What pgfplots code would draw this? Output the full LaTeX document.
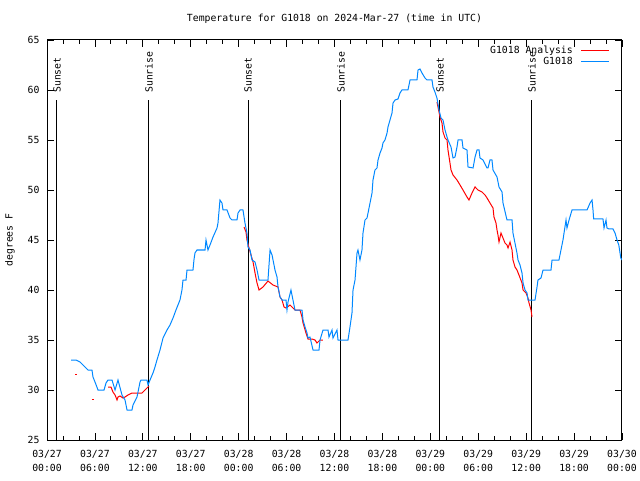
\documentclass[border=0pt]{standalone}
\usepackage{pgfplots}
\pgfplotsset{compat=1.18}
\usepackage{fontspec}
\setmainfont{DejaVu Sans Mono}
\definecolor{gred}{RGB}{255,0,0}
\definecolor{gblue}{RGB}{0,136,255}
\begin{document}
\fontsize{9.8}{15}\selectfont
\begin{tikzpicture}[x=1pt,y=1pt]
\useasboundingbox (0,0) rectangle (640,480);
\fill[white] (0,0) rectangle (640,480);
\node at (334.5,461) {Temperature for G1018 on 2024-Mar-27 (time in UTC)};
\node[rotate=90] at (10,240) {degrees F};
\begin{axis}[
  at={(47pt,40pt)}, anchor=south west,
  scale only axis, width=575pt, height=400pt,
  xmin=0, xmax=72, ymin=25, ymax=65,
  xtick={0,6,...,72},
  xticklabels={{03/27\\00:00},{03/27\\06:00},{03/27\\12:00},{03/27\\18:00},{03/28\\00:00},{03/28\\06:00},{03/28\\12:00},{03/28\\18:00},{03/29\\00:00},{03/29\\06:00},{03/29\\12:00},{03/29\\18:00},{03/30\\00:00}},
  xticklabel style={align=center, font=\fontsize{9.8}{14}\selectfont, yshift=-7pt},
  minor x tick num=2,
  ytick={25,30,...,65},
  yticklabel style={font=\fontsize{9.8}{12}\selectfont, xshift=-4pt},
  /pgf/number format/assume math mode=true,
  major tick length=7pt, minor tick length=4pt,
  tick style={black, line width=0.8pt},
  axis line style={line width=1pt},
  legend style={draw=none, fill=none, at={(1,1)}, anchor=north east, xshift=-9pt, yshift=-3pt,
    font=\fontsize{9.8}{11}\selectfont, legend cell align=right, row sep=0pt,
    nodes={inner sep=1pt}},
  legend plot pos=right,
  legend image code/.code={\path (0pt,0pt); \draw[#1] (7pt,0pt) -- (35pt,0pt);},
  clip=true,
]
% event lines
\addplot[black, line width=1pt, forget plot] coordinates {(1.25,25) (1.25,59)};
\addplot[black, line width=1pt, forget plot] coordinates {(12.77,25) (12.77,59)};
\addplot[black, line width=1pt, forget plot] coordinates {(25.17,25) (25.17,59)};
\addplot[black, line width=1pt, forget plot] coordinates {(36.80,25) (36.80,59)};
\addplot[black, line width=1pt, forget plot] coordinates {(49.21,25) (49.21,59)};
\addplot[black, line width=1pt, forget plot] coordinates {(60.73,25) (60.73,59)};
\node[rotate=90, anchor=west, inner sep=0pt] at (axis cs:1.25,59.7) {Sunset};
\node[rotate=90, anchor=west, inner sep=0pt] at (axis cs:12.77,59.7) {Sunrise};
\node[rotate=90, anchor=west, inner sep=0pt] at (axis cs:25.17,59.7) {Sunset};
\node[rotate=90, anchor=west, inner sep=0pt] at (axis cs:36.80,59.7) {Sunrise};
\node[rotate=90, anchor=west, inner sep=0pt] at (axis cs:49.21,59.7) {Sunset};
\node[rotate=90, anchor=west, inner sep=0pt] at (axis cs:60.73,59.7) {Sunrise};
% analysis (red)
\addplot[gred, line width=1pt] coordinates {
(7.64,30.3) (8.01,30.3) (8.26,29.8) (8.52,29.5) (8.77,29.0) (8.89,29.3) (9.14,29.4) (9.52,29.2)
(9.77,29.3) (10.14,29.5) (10.64,29.7) (11.90,29.7) (12.27,30.0) (12.77,30.4)
};
\addlegendentry{G1018 Analysis}
\addplot[gred, line width=1pt, forget plot] coordinates {(3.55,31.6) (3.70,31.6)};
\addplot[gred, line width=1pt, forget plot] coordinates {(5.63,29.1) (5.89,29.1)};
\addplot[gred, line width=1pt, forget plot] coordinates {
(24.67,46.3) (24.92,45.8) (25.04,45.0) (25.30,44.2) (25.55,43.5) (25.80,42.8) (26.05,41.7) (26.30,40.7)
(26.55,40.0) (27.05,40.3) (27.67,40.9) (28.30,40.5) (28.93,40.3) (29.18,39.3) (29.43,39.0) (29.68,38.3)
(29.93,38.2) (30.43,38.5) (31.05,38.0) (31.68,38.0) (31.93,37.3) (32.06,36.7) (32.43,35.7) (32.68,35.1)
(33.18,35.1) (33.56,35.0) (33.81,34.7) (34.19,35.0) (34.56,35.0)
};
\addplot[gred, line width=1pt, forget plot] coordinates {
(48.83,58.8) (48.96,58.3) (49.21,57.3) (49.46,56.7) (49.59,55.8) (49.84,55.2) (50.09,55.0) (50.21,54.0)
(50.46,52.7) (50.59,52.0) (50.84,51.5) (51.34,51.0) (51.72,50.5) (52.09,50.0) (52.59,49.3) (52.84,49.0)
(53.22,49.7) (53.60,50.3) (53.97,50.0) (54.47,49.8) (54.85,49.5) (55.10,49.2) (55.47,48.7) (55.85,48.2)
(55.97,47.3) (56.22,46.7) (56.35,46.0) (56.47,45.5) (56.60,44.8) (56.85,45.7) (57.10,45.2) (57.35,44.7)
(57.60,44.5) (57.73,44.2) (57.98,44.8) (58.23,44.0) (58.35,43.0) (58.60,42.3) (58.85,42.0) (59.10,41.5)
(59.48,40.7) (59.61,40.0) (59.98,39.7) (60.23,39.2) (60.36,38.7) (60.61,38.0) (60.73,37.3)
};
% observations (blue)
\addplot[gblue, line width=1pt] coordinates {
(3.01,33.0) (3.63,33.0) (4.13,32.8) (4.51,32.5) (5.13,32.0) (5.63,32.0) (5.76,31.3) (6.01,30.8)
(6.39,30.0) (7.14,30.0) (7.39,30.7) (7.64,31.0) (8.14,31.0) (8.52,30.0) (8.89,31.0) (9.39,29.5)
(9.77,29.0) (10.02,28.0) (10.64,28.0) (10.77,28.5) (11.27,29.3) (11.65,30.8) (11.77,31.0) (12.52,31.0)
(12.65,30.5) (12.90,31.0) (13.27,31.7) (13.52,32.3) (13.77,33.0) (14.15,34.0) (14.53,35.2) (15.03,36.0)
(15.40,36.5) (15.78,37.2) (16.15,38.0) (16.65,39.0) (16.90,40.0) (17.03,41.0) (17.41,41.0) (17.53,42.0)
(18.28,42.0) (18.40,43.0) (18.53,43.7) (18.78,44.0) (19.79,44.0) (19.91,45.0) (20.16,44.0) (20.41,44.5)
(20.79,45.3) (21.29,46.2) (21.41,46.7) (21.66,49.0) (21.91,48.7) (22.04,48.0) (22.54,48.0) (22.92,47.2)
(23.17,47.0) (23.79,47.0) (23.92,47.7) (24.17,48.0) (24.54,48.0) (24.79,46.7) (25.04,45.7) (25.17,44.3)
(25.42,44.0) (25.67,43.0) (26.05,42.8) (26.30,42.0) (26.55,41.0) (27.67,41.0) (27.93,44.0) (28.18,43.5)
(28.55,42.0) (28.80,41.3) (28.93,40.3) (29.18,39.3) (29.43,39.0) (29.93,39.0) (30.05,38.0) (30.18,38.8)
(30.55,40.0) (30.80,39.0) (31.05,38.0) (31.93,38.0) (32.06,37.0) (32.31,36.3) (32.56,35.7) (32.68,35.2)
(32.93,35.3) (33.31,34.0) (34.06,34.0) (34.19,35.0) (34.56,36.0) (35.19,36.0) (35.31,35.3) (35.69,36.0)
(35.81,35.2) (36.31,36.0) (36.44,35.0) (37.69,35.0) (37.94,36.3) (38.19,37.7) (38.32,40.0) (38.57,41.0)
(38.82,43.7) (38.94,44.0) (39.19,43.0) (39.44,44.0) (39.57,45.7) (39.82,47.0) (40.07,47.2) (40.20,47.7)
(40.45,48.7) (40.70,49.7) (40.82,51.0) (41.07,52.0) (41.32,52.2) (41.45,53.0) (41.70,53.7) (41.95,54.2)
(42.07,54.7) (42.32,55.0) (42.58,55.7) (42.70,56.3) (42.95,57.0) (43.20,57.7) (43.33,58.7) (43.58,59.0)
(43.95,59.1) (44.20,59.7) (44.45,60.0) (45.20,60.0) (45.46,61.0) (46.33,61.0) (46.46,62.0) (46.71,62.1)
(46.96,61.7) (47.33,61.2) (47.58,61.0) (48.21,61.0) (48.33,60.3) (48.58,59.8) (48.83,59.2) (49.09,58.0)
(49.34,57.2) (49.59,57.0) (49.84,56.0) (50.09,55.3) (50.21,55.0) (50.59,54.3) (50.84,53.2) (51.09,53.3)
(51.34,54.3) (51.47,55.0) (51.97,55.0) (52.09,54.2) (52.59,54.0) (52.72,52.3) (53.35,52.2) (53.60,53.3)
(53.85,54.0) (54.10,54.0) (54.22,53.2) (54.60,53.0) (55.10,52.2) (55.22,52.2) (55.47,53.0) (55.72,53.0)
(55.85,52.0) (56.35,51.3) (56.60,50.3) (56.98,49.8) (57.10,48.7) (57.60,47.0) (58.23,47.0) (58.35,45.7)
(58.60,44.7) (58.85,43.7) (58.98,43.0) (59.23,42.5) (59.48,41.7) (59.61,40.7) (59.86,40.0) (60.11,39.7)
(60.23,39.0) (61.11,39.0) (61.36,40.3) (61.48,41.0) (61.86,41.2) (62.11,42.0) (63.11,42.0) (63.24,43.0)
(64.11,43.0) (64.36,44.0) (64.61,45.0) (64.99,47.0) (65.11,46.2) (65.37,47.0) (65.74,48.0) (67.62,48.0)
(68.00,48.7) (68.25,49.0) (68.37,48.0) (68.45,47.1) (69.62,47.1) (69.75,46.2) (70.00,47.0) (70.12,46.2)
(70.37,46.1) (70.87,46.1) (71.13,45.7) (71.38,45.0) (71.60,44.5) (71.85,43.2) (72.00,43.0)
};
\addlegendentry{G1018}
\end{axis}
\end{tikzpicture}
\end{document}
